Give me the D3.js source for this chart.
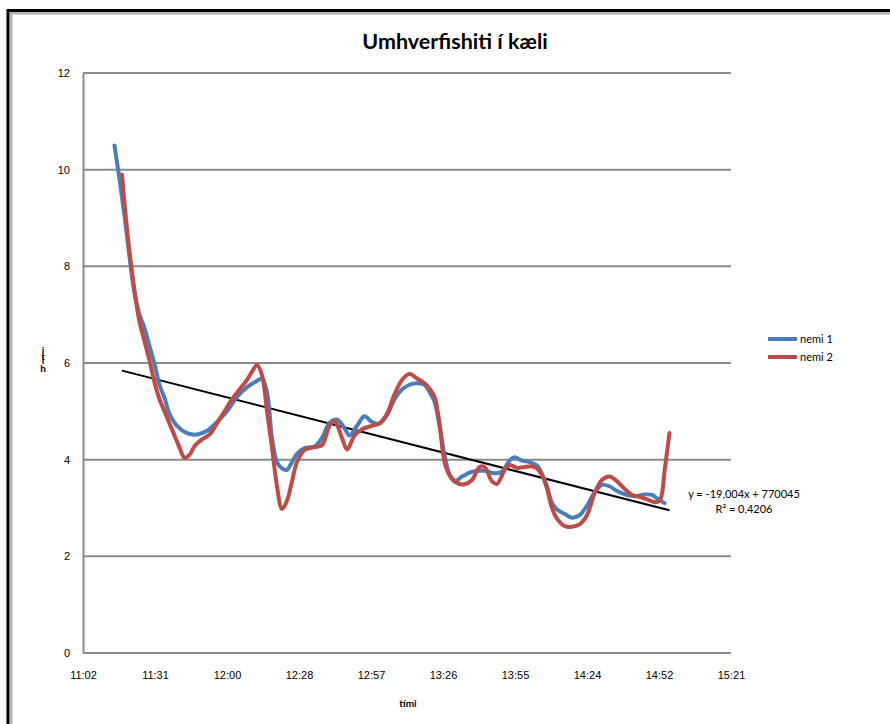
<!DOCTYPE html>
<html>
<head>
<meta charset="utf-8">
<script src="https://cdn.jsdelivr.net/npm/d3@7/dist/d3.min.js"></script>
<style>
  body { margin: 0; background: #fff; }
  svg { display: block; font-family: Lato, "Open Sans", "Liberation Sans", sans-serif; }
</style>
</head>
<body>
<svg id="chart" width="890" height="724"></svg>
<script>
// ---- chart data ----
const chartTitle = "Umhverfishiti í kæli";
const xTitle = "tími";
const yTitle = "hiti";
const seriesNames = ["nemi 1", "nemi 2"];
const seriesColors = ["#4a7ebb", "#be4b48"];
const yTicks = [0, 2, 4, 6, 8, 10, 12];
const xTickLabels = ["11:02", "11:31", "12:00", "12:28", "12:57", "13:26", "13:55", "14:24", "14:52", "15:21"];

const times1 = ["11:15","11:17","11:19","11:21","11:23","11:25","11:27","11:29","11:31","11:33",
  "11:35","11:37","11:40","11:44","11:48","11:52","11:56","12:00","12:04","12:08",
  "12:12","12:14","12:16","12:18","12:20","12:22","12:24","12:26","12:28","12:31",
  "12:35","12:38","12:41","12:44","12:47","12:49","12:52","12:55","12:58","13:01",
  "13:04","13:07","13:10","13:13","13:16","13:19","13:21","13:23","13:25","13:27",
  "13:29","13:31","13:34","13:38","13:43","13:47","13:50","13:53","13:55","13:58",
  "14:01","14:04","14:06","14:08","14:10","14:12","14:15","14:18","14:21","14:24",
  "14:27","14:30","14:33","14:36","14:40","14:44","14:47","14:50","14:52","14:55"];
const values1 = [10.5, 9.8, 9.05, 8.2, 7.45, 7.0, 6.72, 6.35, 5.98, 5.55,
  5.28, 4.95, 4.7, 4.55, 4.52, 4.6, 4.78, 5.0, 5.3, 5.5,
  5.63, 5.68, 5.4, 4.45, 3.95, 3.82, 3.79, 3.95, 4.12, 4.24,
  4.27, 4.45, 4.76, 4.83, 4.65, 4.5, 4.7, 4.9, 4.78, 4.75,
  4.92, 5.25, 5.45, 5.55, 5.58, 5.55, 5.4, 5.2, 4.7, 4.1,
  3.7, 3.55, 3.65, 3.75, 3.77, 3.72, 3.75, 3.98, 4.05, 3.98,
  3.95, 3.88, 3.7, 3.45, 3.1, 2.97, 2.88, 2.8, 2.85, 3.05,
  3.32, 3.48, 3.45, 3.35, 3.27, 3.25, 3.28, 3.27, 3.2, 3.1];

const times2 = ["11:18","11:19","11:21","11:23","11:25","11:27","11:29","11:31","11:33","11:35",
  "11:37","11:39","11:41","11:43","11:45","11:47","11:50","11:53","11:56","11:59",
  "12:02","12:05","12:08","12:10","12:12","12:14","12:16","12:18","12:20","12:22",
  "12:24","12:26","12:28","12:31","12:35","12:38","12:41","12:43","12:46","12:48",
  "12:51","12:54","12:58","13:01","13:04","13:07","13:10","13:13","13:16","13:19",
  "13:21","13:23","13:25","13:27","13:29","13:32","13:35","13:38","13:41","13:43",
  "13:46","13:48","13:51","13:53","13:56","13:59","14:02","14:04","14:06","14:08",
  "14:10","14:12","14:15","14:18","14:21","14:24","14:27","14:30","14:33","14:36",
  "14:39","14:42","14:45","14:48","14:51","14:53","14:54","14:55","14:57"];
const values2 = [9.9, 9.3, 8.3, 7.5, 6.85, 6.45, 6.05, 5.6, 5.25, 5.0,
  4.75, 4.5, 4.25, 4.04, 4.1, 4.28, 4.42, 4.52, 4.75, 5.0,
  5.25, 5.45, 5.65, 5.82, 5.96, 5.75, 5.0, 4.25, 3.45, 2.98,
  3.15, 3.55, 3.95, 4.2, 4.26, 4.3, 4.7, 4.8, 4.45, 4.21,
  4.5, 4.63, 4.7, 4.75, 4.95, 5.35, 5.65, 5.77, 5.68, 5.58,
  5.47, 5.3, 4.75, 3.95, 3.68, 3.52, 3.49, 3.58, 3.85, 3.85,
  3.55, 3.5, 3.78, 3.89, 3.83, 3.85, 3.86, 3.82, 3.68, 3.4,
  3.0, 2.78, 2.63, 2.61, 2.66, 2.85, 3.3, 3.58, 3.65, 3.55,
  3.4, 3.27, 3.23, 3.18, 3.12, 3.15, 3.3, 3.75, 4.55];

// Linear trendline of nemi 2 (slope per day)
const trendSlope = -19.004;
const trendIntercept = "770045";
const trendR2 = "0,4206";
// intercept of the same line expressed against time of day (fraction of a day)
const trendDayIntercept = 14.79;

// ---- helpers ----
const toMinutes = s => { const [h, m] = s.split(":").map(Number); return h * 60 + m; };
const axisStart = 0.46 * 1440, axisStep = 0.02 * 1440;   // Excel date-axis units in minutes
const xTickValues = xTickLabels.map((_, i) => axisStart + i * axisStep);

const svg = d3.select("#chart");

// outer frame
svg.append("rect").attr("x", 8).attr("y", 10.5).attr("width", 900).attr("height", 800)
  .attr("fill", "none").attr("stroke", "#000").attr("stroke-width", 3);
svg.append("rect").attr("x", 11).attr("y", 13).attr("width", 900).attr("height", 800)
  .attr("fill", "none").attr("stroke", "#9a9a9a").attr("stroke-width", 1.5);
svg.append("rect").attr("x", 12.5).attr("y", 14.5).attr("width", 900).attr("height", 800)
  .attr("fill", "none").attr("stroke", "#d8d8d8").attr("stroke-width", 1);

const plot = { left: 83, right: 731, top: 73, bottom: 653 };
const x = d3.scaleLinear().domain([xTickValues[0], xTickValues[xTickValues.length - 1]])
  .range([plot.left, plot.right]);
const y = d3.scaleLinear().domain([0, 12]).range([plot.bottom, plot.top]);

// title
svg.append("text").attr("x", 455).attr("y", 49).attr("text-anchor", "middle")
  .attr("font-size", 21.5).attr("font-weight", "bold").attr("fill", "#000").text(chartTitle);

// horizontal gridlines
svg.append("g").selectAll("line").data(yTicks).join("line")
  .attr("x1", plot.left).attr("x2", plot.right)
  .attr("y1", d => y(d)).attr("y2", d => y(d))
  .attr("stroke", "#8a8a8a").attr("stroke-width", 2);

// y axis
const yAxis = svg.append("g").attr("transform", `translate(${plot.left},0)`)
  .call(d3.axisLeft(y).tickValues(yTicks).tickSize(0).tickPadding(13).tickFormat(d3.format("d")));
yAxis.select(".domain").attr("stroke", "#8a8a8a").attr("stroke-width", 2);
yAxis.selectAll("text").attr("font-size", 11).attr("fill", "#000").attr("font-family", null);

// x axis (labels only)
const xAxis = svg.append("g").attr("transform", `translate(0,${plot.bottom})`)
  .call(d3.axisBottom(x).tickValues(xTickValues).tickSize(0).tickPadding(18)
    .tickFormat((d, i) => xTickLabels[i]));
xAxis.select(".domain").remove();
xAxis.selectAll("text").attr("font-size", 11).attr("fill", "#000").attr("font-family", null);

// axis titles
svg.append("text").attr("x", 408).attr("y", 707).attr("text-anchor", "middle")
  .attr("font-size", 10).attr("font-weight", "bold").text(xTitle);

// vertical title: letters stacked tightly, last letter on top
const yLabel = svg.append("text").attr("text-anchor", "middle")
  .attr("font-size", 10).attr("font-weight", "bold").attr("fill", "#000");
const stacked = yTitle.split("").reverse();          // i, t, i, h (top to bottom)
const stackY = [354, 360, 364, 372];
yLabel.selectAll("tspan").data(stacked).join("tspan")
  .attr("x", 43).attr("y", (d, i) => stackY[i]).text(d => d);

// trendline
const tStart = toMinutes(times2[0]), tEnd = toMinutes(times2[times2.length - 1]);
const trendY = m => trendDayIntercept + trendSlope * (m / 1440);
svg.append("line")
  .attr("x1", x(tStart)).attr("y1", y(trendY(tStart)))
  .attr("x2", x(tEnd)).attr("y2", y(trendY(tEnd)))
  .attr("stroke", "#000").attr("stroke-width", 2);

// series
const series = [
  { name: seriesNames[0], color: seriesColors[0], pts: times1.map((t, i) => [toMinutes(t), values1[i]]) },
  { name: seriesNames[1], color: seriesColors[1], pts: times2.map((t, i) => [toMinutes(t), values2[i]]) }
];
const line = d3.line().x(d => x(d[0])).y(d => y(d[1])).curve(d3.curveCatmullRom.alpha(0.5));
svg.append("g").selectAll("path").data(series).join("path")
  .attr("d", d => line(d.pts)).attr("fill", "none")
  .attr("stroke", d => d.color).attr("stroke-width", 4)
  .attr("stroke-linejoin", "round").attr("stroke-linecap", "round");

// trendline equation
const eq = svg.append("g").attr("font-size", 11).attr("fill", "#000");
eq.append("text").attr("x", 744).attr("y", 498).attr("text-anchor", "middle")
  .text(`y = ${String(trendSlope).replace(".", ",")}x + ${trendIntercept}`);
eq.append("text").attr("x", 744).attr("y", 513).attr("text-anchor", "middle")
  .text(`R² = ${trendR2}`);

// legend
const legend = svg.append("g").selectAll("g").data(series).join("g")
  .attr("transform", (d, i) => `translate(768,${339 + i * 18})`);
legend.append("line").attr("x1", 0).attr("x2", 29).attr("y1", 0).attr("y2", 0)
  .attr("stroke", d => d.color).attr("stroke-width", 4);
legend.append("text").attr("x", 32).attr("y", 4).attr("font-size", 11).text(d => d.name);
</script>
</body>
</html>
